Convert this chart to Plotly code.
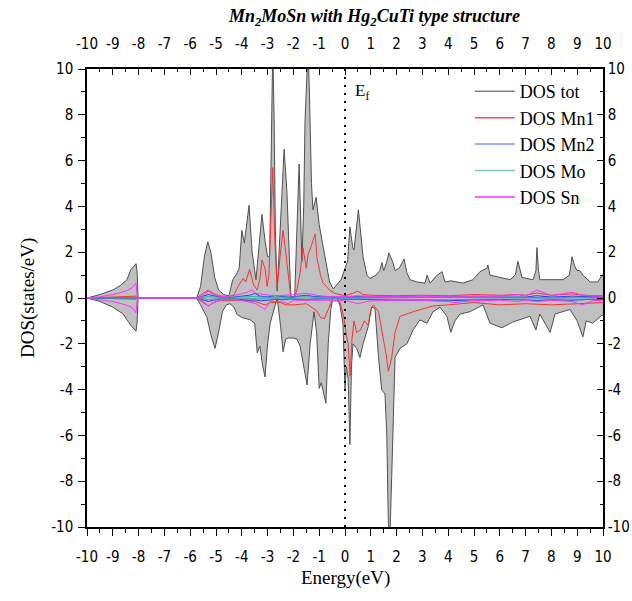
import plotly.graph_objects as go

# ---- total DOS (spin up / spin down) ----
e_tot_up = [-10.0, -9.5, -9.0, -8.7, -8.45, -8.3, -8.2, -8.1, -8.06, -8.02, -5.75, -5.6, -5.45, -5.32, -5.2,
            -5.05, -4.9, -4.7, -4.5, -4.35, -4.2, -4.1, -4.0, -3.9, -3.72, -3.6, -3.45, -3.35, -3.22, -3.1,
            -3.0, -2.92, -2.85, -2.8, -2.75, -2.7, -2.63, -2.52, -2.36, -2.25, -2.17, -2.1, -1.95, -1.85,
            -1.78, -1.67, -1.6, -1.55, -1.47, -1.43, -1.38, -1.3, -1.24, -1.12, -1.0, -0.89, -0.75, -0.6,
            -0.45, -0.3, -0.15, 0.0, 0.1, 0.19, 0.3, 0.35, 0.52, 0.7, 0.85, 0.97, 1.2, 1.35, 1.43, 1.5,
            1.6, 1.7, 1.86, 1.94, 2.1, 2.29, 2.4, 2.52, 2.8, 3.1, 3.18, 3.3, 3.57, 3.7, 3.76, 3.88, 4.1,
            4.57, 4.96, 5.23, 5.5, 5.54, 5.62, 6.0, 6.4, 6.6, 6.7, 6.86, 7.29, 7.4, 7.44, 7.5, 7.55, 8.45,
            8.7, 8.8, 8.9, 8.99, 9.1, 9.22, 9.5, 9.8, 9.96, 10.0]
dos_tot_up = [0.0, 0.15, 0.35, 0.55, 0.8, 1.25, 1.35, 1.5, 1.2, 0.0, 0.0, 0.5, 1.8, 2.45, 2.0,
              0.9, 0.35, 0.15, 0.1, 0.8, 1.05, 1.3, 2.95, 2.4, 4.05, 2.0, 0.8, 2.0, 3.65, 2.5,
              1.8, 1.8, 6.0, 11.0, 8.0, 3.0, 0.3, 3.1, 6.5, 4.6, 1.66, 0.05, 0.05, 3.0,
              5.85, 1.6, 4.0, 7.7, 9.5, 11.0, 9.0, 5.0, 3.85, 4.4, 3.2, 2.5, 1.6, 0.7,
              0.4, 0.6, 0.8, 1.3, 1.6, 3.1, 2.2, 2.1, 3.85, 1.8, 1.0, 0.85, 1.0, 1.2, 1.55, 1.2,
              1.5, 1.97, 1.55, 1.2, 1.3, 1.7, 1.1, 0.8, 0.7, 0.65, 1.0, 0.65, 1.0, 1.1, 1.15, 0.7, 0.75,
              0.65, 0.8, 1.15, 1.3, 1.44, 1.0, 0.9, 0.8, 1.0, 1.6, 0.9, 0.8, 1.2, 2.2, 1.2, 0.8, 0.8,
              1.0, 1.8, 1.4, 1.2, 1.2, 1.0, 0.7, 0.7, 1.0, 1.0]

e_tot_dn = [-10.0, -9.5, -9.0, -8.6, -8.45, -8.3, -8.1, -8.06, -8.02, -5.75, -5.6, -5.35, -5.2, -5.04,
            -4.9, -4.75, -4.6, -4.46, -4.3, -4.19, -4.0, -3.68, -3.5, -3.4, -3.3, -3.2, -3.1, -3.0,
            -2.9, -2.75, -2.63, -2.5, -2.4, -2.3, -2.2, -2.0, -1.86, -1.74, -1.6, -1.47, -1.35, -1.2,
            -1.1, -1.0, -0.92, -0.85, -0.74, -0.65, -0.55, -0.47, -0.31, -0.2, -0.08, 0.0, 0.05, 0.12,
            0.19, 0.25, 0.31, 0.45, 0.58, 0.7, 0.9, 1.03, 1.16, 1.3, 1.42, 1.55, 1.62, 1.68, 1.74,
            1.81, 1.88, 1.94, 2.13, 2.4, 2.64, 2.9, 3.18, 3.41, 3.68, 3.95, 4.1, 4.26, 4.46, 4.84,
            5.35, 5.62, 6.08, 6.5, 7.17, 7.4, 7.55, 7.95, 8.14, 8.72, 9.0, 9.22, 9.35, 9.6, 9.96, 10.0]
dos_tot_dn = [0.0, -0.15, -0.4, -0.7, -0.95, -1.2, -1.45, -1.1, 0.0, 0.0, -0.3, -0.85, -1.6, -2.2,
              -1.5, -0.6, -0.3, -0.25, -0.4, -0.72, -0.85, -0.95, -1.1, -2.4, -2.1, -2.9, -3.45, -2.0,
              -1.1, -0.5, 0.0, -1.2, -2.35, -1.8, -1.75, -1.75, -1.8, -2.1, -3.0, -3.8, -2.0, -0.6,
              -1.5, -3.95, -3.7, -4.1, -4.6, -2.0, -0.5, 0.0, 0.0, -0.3, -1.1, -4.0, -3.0, -3.5,
              -6.4, -3.0, -2.0, -2.2, -2.6, -2.0, -1.25, -0.4, -0.45, -2.6, -4.0, -4.2, -6.0, -9.8, -10.5,
              -7.8, -5.0, -2.6, -2.2, -2.0, -1.4, -0.96, -1.1, -0.6, -0.4, -0.8, -1.5, -1.0, -0.7, -0.6,
              -0.3, -1.1, -1.3, -1.05, -0.8, -1.4, -0.7, -1.5, -0.7, -0.5, -1.0, -1.7, -1.0, -1.1, -0.75, -0.75]

# ---- Mn1 partial DOS ----
e_mn1_up = [-10.0, -9.0, -8.1, -8.05, -5.75, -5.5, -5.3, -5.1, -4.9, -4.5, -4.3, -4.1, -3.95, -3.85,
            -3.7, -3.55, -3.41, -3.3, -3.22, -3.1, -3.02, -2.95, -2.85, -2.8, -2.72, -2.63, -2.5, -2.4,
            -2.3, -2.2, -2.1, -1.95, -1.85, -1.74, -1.63, -1.5, -1.43, -1.3, -1.16, -1.08, -0.95, -0.85,
            -0.6, -0.4, -0.2, 0.0, 0.3, 0.5, 0.7, 1.0, 2.0, 3.0, 4.0, 5.0, 6.0, 6.7, 7.0, 7.44, 8.0,
            8.8, 9.5, 10.0]
dos_mn1_up = [0.0, 0.03, 0.08, 0.0, 0.0, 0.2, 0.35, 0.2, 0.1, 0.05, 0.15, 0.6, 0.85, 0.7,
              1.25, 0.6, 0.35, 0.8, 1.66, 1.3, 0.5, 1.0, 4.0, 5.7, 2.5, 0.45, 2.0, 2.95,
              2.0, 0.9, 0.05, 0.05, 0.4, 1.1, 2.2, 1.3, 1.9, 2.3, 2.8, 1.7, 1.0, 0.65,
              0.35, 0.2, 0.15, 0.1, 0.2, 0.3, 0.15, 0.12, 0.1, 0.12, 0.1, 0.15, 0.12, 0.15, 0.12, 0.22, 0.12,
              0.18, 0.1, 0.1]
e_mn1_dn = [-10.0, -8.1, -8.05, -5.75, -5.5, -5.3, -5.1, -4.8, -4.0, -3.5, -3.1, -2.9, -2.5, -2.3,
            -2.0, -1.5, -1.1, -0.95, -0.8, -0.65, -0.5, -0.2, -0.05, 0.05, 0.12, 0.2, 0.27, 0.35, 0.45,
            0.6, 0.75, 0.9, 1.0, 1.1, 1.3, 1.47, 1.6, 1.68, 1.81, 1.94, 2.13, 2.64, 3.41, 4.0, 5.0,
            6.0, 7.0, 8.0, 9.0, 10.0]
dos_mn1_dn = [0.0, -0.05, 0.0, 0.0, -0.2, -0.35, -0.2, -0.1, -0.1, -0.15, -0.3, -0.2, -0.2, -0.3,
              -0.3, -0.25, -0.55, -0.85, -0.9, -0.5, -0.1, -0.15, -0.8, -1.6, -2.0, -3.4, -1.8, -1.0, -1.5,
              -1.4, -1.0, -1.2, -0.5, -0.3, -0.6, -1.7, -2.5, -3.2, -2.6, -1.5, -0.8, -0.6, -0.35, -0.3, -0.2,
              -0.3, -0.25, -0.3, -0.25, -0.2]

# ---- Mn2 partial DOS ----
e_mn2 = [-10.0, -8.1, -8.05, -5.75, -5.5, -5.3, -5.1, -4.8, -4.4, -4.0, -3.7, -3.5, -3.3, -3.0,
         -2.7, -2.4, -2.1, -1.8, -1.5, -1.2, -0.9, -0.5, 0.0, 0.5, 1.0, 2.0, 3.0, 4.0, 5.0, 6.0,
         7.0, 7.44, 8.0, 8.8, 9.5, 10.0]
dos_mn2_up = [0.0, 0.03, 0.0, 0.0, 0.08, 0.15, 0.1, 0.04, 0.03, 0.08, 0.12, 0.2, 0.08, 0.05,
              0.1, 0.06, 0.03, 0.08, 0.12, 0.06, 0.05, 0.03, 0.04, 0.06, 0.04, 0.05, 0.03, 0.05, 0.04, 0.05,
              0.04, 0.1, 0.04, 0.08, 0.04, 0.04]
dos_mn2_dn = [0.0, -0.03, 0.0, 0.0, -0.08, -0.15, -0.1, -0.05, -0.03, -0.06, -0.1, -0.08, -0.12, -0.1,
              -0.06, -0.08, -0.04, -0.06, -0.08, -0.05, -0.04, -0.03, -0.05, -0.06, -0.05, -0.08, -0.1, -0.12,
              -0.08, -0.06, -0.08, -0.12, -0.07, -0.1, -0.06, -0.06]

# ---- Mo partial DOS ----
e_mo = [-10.0, -8.1, -8.05, -5.75, -5.3, -4.8, -4.0, -3.5, -3.0, -2.5, -2.0, -1.5, -1.0, -0.5,
        0.0, 1.0, 2.0, 3.0, 4.0, 5.0, 6.0, 7.0, 8.0, 9.0, 10.0]
dos_mo_up = [0.0, 0.02, 0.0, 0.0, 0.06, 0.02, 0.04, 0.06, 0.03, 0.04, 0.03, 0.05, 0.03, 0.02,
             0.02, 0.03, 0.02, 0.03, 0.02, 0.03, 0.02, 0.03, 0.02, 0.03, 0.02]
dos_mo_dn = [0.0, -0.02, 0.0, 0.0, -0.06, -0.03, -0.04, -0.06, -0.05, -0.04, -0.03, -0.05, -0.03, -0.02,
             -0.03, -0.04, -0.05, -0.06, -0.08, -0.05, -0.04, -0.05, -0.04, -0.05, -0.04]

# ---- Sn partial DOS ----
e_sn = [-10.0, -9.5, -9.0, -8.5, -8.25, -8.1, -8.05, -5.75, -5.5, -5.3, -5.1, -4.8, -4.3, -3.8,
        -3.6, -3.45, -3.1, -2.9, -2.5, -2.2, -2.0, -1.5, -1.0, -0.5, 0.0, 0.5, 1.0, 2.0, 3.0, 4.0,
        4.2, 5.0, 6.0, 6.7, 7.0, 7.44, 8.0, 8.8, 9.2, 9.6, 10.0]
dos_sn_up = [0.0, 0.05, 0.15, 0.3, 0.45, 0.65, 0.0, 0.0, 0.1, 0.3, 0.15, 0.05, 0.1, 0.25,
             0.35, 0.2, 0.15, 0.12, 0.1, 0.12, 0.15, 0.2, 0.1, 0.05, 0.05, 0.1, 0.06, 0.07, 0.08, 0.1,
             0.1, 0.08, 0.08, 0.15, 0.08, 0.35, 0.1, 0.25, 0.12, 0.08, 0.08]
dos_sn_dn = [0.0, -0.07, -0.15, -0.3, -0.42, -0.65, 0.0, 0.0, -0.15, -0.35, -0.2, -0.08, -0.06, -0.15,
             -0.2, -0.25, -0.5, -0.15, -0.15, -0.25, -0.1, -0.1, -0.08, -0.08, -0.1, -0.25, -0.12, -0.1,
             -0.1, -0.15, -0.2, -0.12, -0.1, -0.15, -0.1, -0.15, -0.1, -0.15, -0.3, -0.12, -0.1]

x_ticks = list(range(-10, 11))
y_ticks = list(range(-10, 11, 2))

TOT_LINE = "#505050"
TOT_FILL = "#c0c0c0"
C_MN1 = "#ff3030"
C_MN2 = "#2a3cff"
C_MO = "#2aa6a6"
C_SN = "#ff30ff"

fig = go.Figure()

# legend keys (line-only entries)
legend_items = [("DOS tot", "#808080"), ("DOS Mn1", "#ff5050"), ("DOS Mn2", "#8c8cff"),
                ("DOS Mo", "#7fc6c6"), ("DOS Sn", C_SN)]
for name, col in legend_items:
    fig.add_trace(go.Scatter(x=[None], y=[None], mode="lines", name=name,
                             line=dict(color=col, width=1.5), xaxis="x2", yaxis="y2"))

# filled total DOS
for ex, dy in [(e_tot_up, dos_tot_up), (e_tot_dn, dos_tot_dn)]:
    fig.add_trace(go.Scatter(x=ex, y=dy, mode="lines", fill="tozeroy", fillcolor=TOT_FILL,
                             line=dict(color=TOT_LINE, width=1), showlegend=False))

partials = [
    (e_mn1_up, dos_mn1_up, C_MN1), (e_mn1_dn, dos_mn1_dn, C_MN1),
    (e_mn2, dos_mn2_up, C_MN2), (e_mn2, dos_mn2_dn, C_MN2),
    (e_mo, dos_mo_up, C_MO), (e_mo, dos_mo_dn, C_MO),
    (e_sn, dos_sn_up, C_SN), (e_sn, dos_sn_dn, C_SN),
]
for ex, dy, col in partials:
    fig.add_trace(go.Scatter(x=ex, y=dy, mode="lines", line=dict(color=col, width=1),
                             showlegend=False))

# Fermi level
fig.add_shape(type="line", x0=0, x1=0, y0=-10, y1=10, xref="x", yref="y",
              line=dict(color="black", width=2, dash="2px,6px"))

tick_font = dict(family="Liberation Sans Narrow, Arial Narrow, DejaVu Sans Condensed, Liberation Sans, Arial",
                 size=15, color="black")
serif = "Liberation Serif, Times New Roman, serif"

common_x = dict(range=[-10, 10], tickvals=x_ticks, ticktext=[str(v) for v in x_ticks],
                showgrid=False, zeroline=False, showline=True, linecolor="black", linewidth=1.5,
                tickcolor="black", tickwidth=1, tickfont=tick_font, automargin=False)
common_y = dict(range=[-10, 10], tickvals=y_ticks, ticktext=[str(v) for v in y_ticks],
                showgrid=False, zeroline=False, showline=True, linecolor="black", linewidth=1.5,
                tickcolor="black", tickwidth=1, tickfont=tick_font, automargin=False)

fig.update_layout(
    width=632, height=601,
    margin=dict(l=87, r=29, t=69, b=74, autoexpand=False),
    paper_bgcolor="white", plot_bgcolor="white",
    xaxis=dict(**common_x, side="bottom", ticks="outside", ticklen=7, ticklabelstandoff=8,
               minor=dict(dtick=0.5, tick0=0, ticks="outside", ticklen=4, tickcolor="black", tickwidth=1)),
    xaxis2=dict(**common_x, side="top", overlaying="x", ticks="inside", ticklen=6, ticklabelstandoff=12,
                minor=dict(dtick=0.5, tick0=0, ticks="inside", ticklen=3, tickcolor="black", tickwidth=1)),
    yaxis=dict(**common_y, side="left", ticks="outside", ticklen=7, ticklabelstandoff=2,
               minor=dict(dtick=1, tick0=0, ticks="outside", ticklen=4, tickcolor="black", tickwidth=1)),
    yaxis2=dict(**common_y, side="right", overlaying="y", ticks="inside", ticklen=6, ticklabelstandoff=0,
                minor=dict(dtick=1, tick0=0, ticks="inside", ticklen=3, tickcolor="black", tickwidth=1)),
    legend=dict(x=0.742, y=0.991, xanchor="left", yanchor="top", bgcolor="rgba(0,0,0,0)",
                font=dict(family=serif, size=18, color="black"), itemwidth=40,
                tracegroupgap=0),
    showlegend=True,
)

fig.add_annotation(text="<b><i>Mn<sub>2</sub>MoSn with Hg<sub>2</sub>CuTi type structure</i></b>",
                   xref="paper", yref="paper", x=(374 - 87) / 516, y=(527 - 18) / 458,
                   showarrow=False, font=dict(family=serif, size=18, color="black"),
                   xanchor="center", yanchor="middle")
fig.add_annotation(text="Energy(eV)", xref="paper", yref="paper", x=0.5, y=(527 - 578) / 458,
                   showarrow=False, font=dict(family=serif, size=19, color="black"),
                   xanchor="center", yanchor="middle")
fig.add_annotation(text="DOS(states/eV)", xref="paper", yref="paper", x=(28 - 87) / 516, y=0.5,
                   showarrow=False, textangle=-90, font=dict(family=serif, size=19, color="black"),
                   xanchor="center", yanchor="middle")
fig.add_annotation(text="E<sub>f</sub>", xref="x", yref="y", x=0.3, y=9.0,
                   showarrow=False, font=dict(family=serif, size=17, color="black"),
                   xanchor="left", yanchor="middle")

fig.write_html("out.html")
